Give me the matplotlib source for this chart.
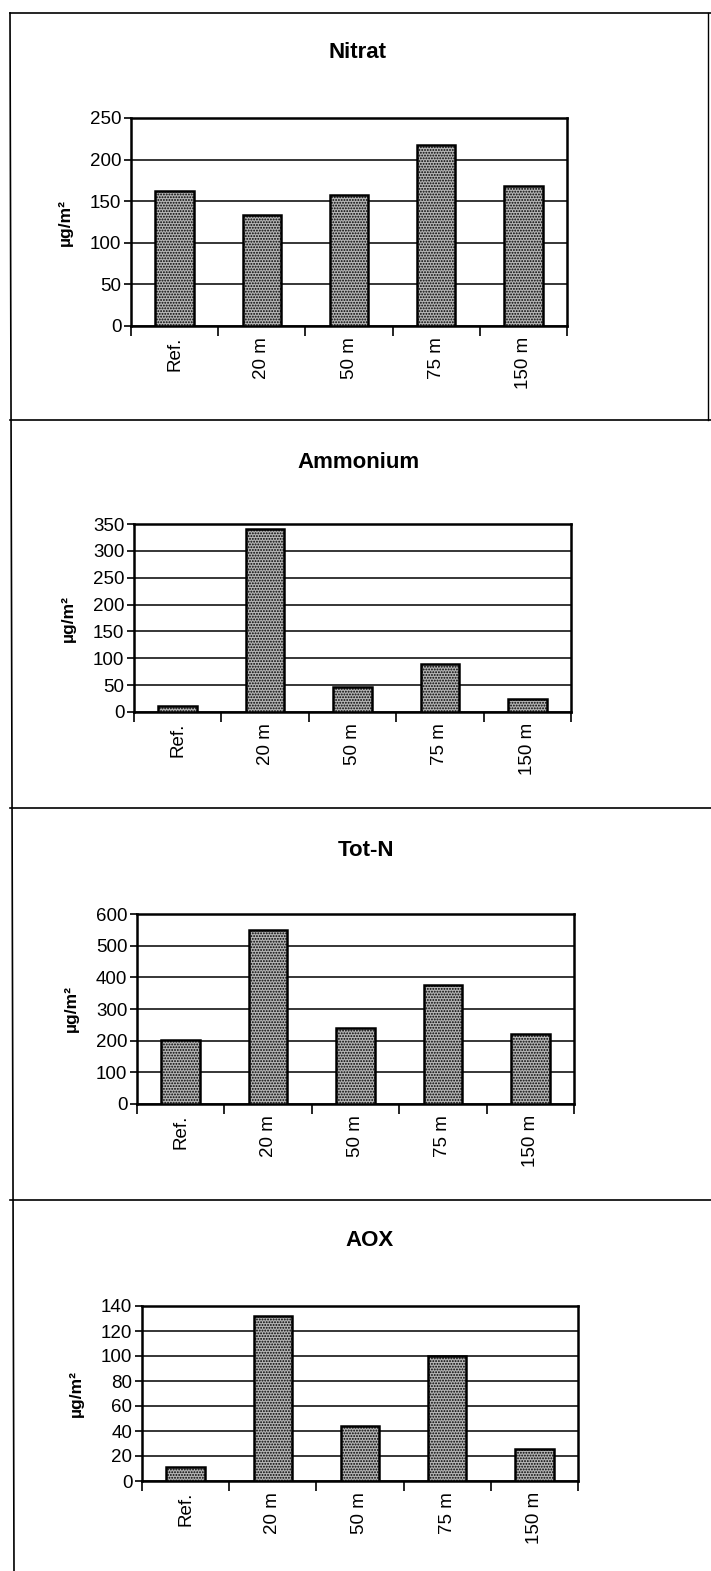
"""
Four stacked bar charts: Nitrat, Ammonium, Tot-N, AOX (µg/m²) by distance.
"""

import matplotlib
matplotlib.use("Agg")
import matplotlib.pyplot as plt
from matplotlib.lines import Line2D

# --- Data ---
CATEGORIES = ["Ref.", "20 m", "50 m", "75 m", "150 m"]

NITRAT = [162, 133, 158, 217, 168]
AMMONIUM = [12, 340, 47, 90, 25]
TOT_N = [202, 550, 240, 375, 220]
AOX = [11, 132, 44, 100, 26]

TITLES = ["Nitrat", "Ammonium", "Tot-N", "AOX"]
SERIES = [NITRAT, AMMONIUM, TOT_N, AOX]
Y_MAX = [250, 350, 600, 140]
Y_STEP = [50, 50, 100, 20]
Y_LABEL = "µg/m²"

# --- Layout (pixels of the 711x1571 page) ---
W, H = 711, 1571
# left, top, right, bottom of each plot area
AXES_PX = [
    (131, 118, 567, 326),
    (134, 524, 571, 712),
    (137, 914, 574, 1104),
    (142, 1306, 578, 1481),
]
TITLE_PX = [(358, 52), (358, 463), (366, 851), (370, 1241)]
SEPARATORS_Y = [13, 420, 808, 1200]

plt.rcParams["font.family"] = ["Liberation Sans", "DejaVu Sans"]
plt.rcParams["hatch.color"] = "#2e2e2e"
plt.rcParams["hatch.linewidth"] = 0.9


def px_rect(left, top, right, bottom):
    return [left / W, 1 - bottom / H, (right - left) / W, (bottom - top) / H]


def draw_panel(fig, rect, title_pos, title, values, ymax, ystep):
    ax = fig.add_axes(px_rect(*rect))
    x = list(range(len(CATEGORIES)))
    ax.bar(x, values, width=0.44, facecolor="#b4b4b4", edgecolor="black",
           linewidth=1.8, hatch="......", zorder=3)

    ax.set_xlim(-0.5, len(CATEGORIES) - 0.5)
    ax.set_ylim(0, ymax)
    ax.set_yticks(range(0, ymax + 1, ystep))
    ax.tick_params(axis="y", direction="out", length=5, width=1.2,
                   labelsize=13.5, pad=2)

    # category labels at centres, tick marks at the boundaries
    ax.set_xticks(x)
    ax.set_xticklabels(CATEGORIES, rotation=90, fontsize=13.5)
    ax.tick_params(axis="x", which="major", length=0, pad=8)
    ax.set_xticks([i - 0.5 for i in range(len(CATEGORIES) + 1)], minor=True)
    ax.tick_params(axis="x", which="minor", direction="out", length=7,
                   width=1.2)

    ax.grid(axis="y", color="black", linewidth=1.1, zorder=0)
    for spine in ax.spines.values():
        spine.set_linewidth(1.8)

    ax.set_ylabel(Y_LABEL, fontsize=12.5, fontweight="bold", labelpad=12)
    fig.text(title_pos[0] / W, 1 - title_pos[1] / H, title, fontsize=16,
             fontweight="bold", ha="center", va="center")
    return ax


fig = plt.figure(figsize=(W / 100, H / 100), dpi=100)

for i in range(len(TITLES)):
    draw_panel(fig, AXES_PX[i], TITLE_PX[i], TITLES[i], SERIES[i],
               Y_MAX[i], Y_STEP[i])

# page frame around the panels
for y in SEPARATORS_Y:
    fig.add_artist(Line2D([10 / W, 1.0], [1 - y / H, 1 - y / H],
                          color="black", linewidth=1.2))
fig.add_artist(Line2D([10 / W, 14 / W], [1 - 13 / H, 0.0],
                      color="black", linewidth=1.2))
fig.add_artist(Line2D([708 / W, 708 / W], [1 - 13 / H, 1 - 420 / H],
                      color="black", linewidth=1.0))

fig.savefig("out.png", dpi=100, facecolor="white")
plt.close(fig)
